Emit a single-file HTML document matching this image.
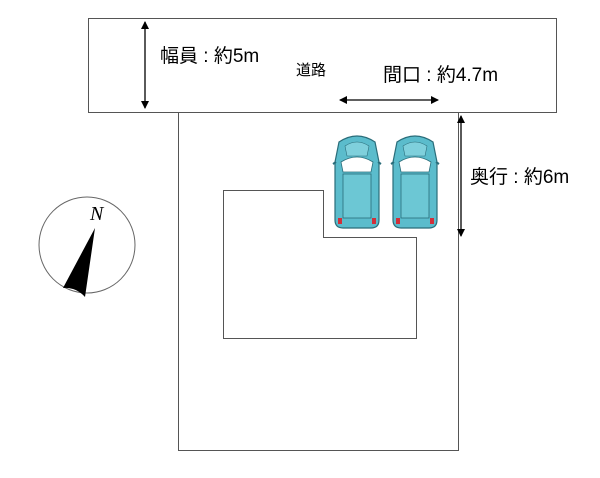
<!DOCTYPE html>
<html><head><meta charset="utf-8"><style>
body{margin:0;background:#fff;width:600px;height:473px;overflow:hidden}
text{font-family:"Liberation Sans","Noto Sans CJK JP",sans-serif;fill:#000}
</style></head><body>
<svg width="600" height="473" viewBox="0 0 600 473">
<defs>
<marker id="a" markerWidth="8" markerHeight="8" refX="7" refY="4" orient="auto-start-reverse" markerUnits="userSpaceOnUse"><path d="M0,0 L8,4 L0,8 Z" fill="#000"/></marker>
<g id="car">
<path d="M6,10 Q24,-2 42,10 L46,30 L46,88 Q46,96 38,96 L10,96 Q2,96 2,88 L2,30 Z" fill="#5bbccc" stroke="#2a6d7a" stroke-width="1.2"/>
<path d="M8,30 Q24,20 40,30 L38,40 L10,40 Z" fill="#fff" stroke="#2a6d7a" stroke-width="0.8"/>
<rect x="10" y="42" width="28" height="44" fill="#6cc7d4" stroke="#2a6d7a" stroke-width="0.8"/>
<path d="M12,14 Q24,6 36,14 L34,24 L14,24 Z" fill="#7fd0dc" stroke="#2a6d7a" stroke-width="0.6"/>
<rect x="5" y="86" width="4" height="6" fill="#d0303a"/><rect x="39" y="86" width="4" height="6" fill="#d0303a"/>
<path d="M0,32 L3,30 M48,32 L45,30" stroke="#2a6d7a" stroke-width="2"/>
</g>
</defs>
<rect x="88.5" y="18.5" width="468" height="94" fill="none" stroke="#555" stroke-width="1"/>
<rect x="178.5" y="112.5" width="280" height="338" fill="none" stroke="#555" stroke-width="1"/>
<path d="M223.5,190.5 H323.5 V237.5 H416.5 V338.5 H223.5 Z" fill="none" stroke="#555" stroke-width="1"/>
<line x1="145" y1="22" x2="145" y2="108" stroke="#000" stroke-width="1.3" marker-start="url(#a)" marker-end="url(#a)"/>
<line x1="340" y1="100" x2="438" y2="100" stroke="#000" stroke-width="1.3" marker-start="url(#a)" marker-end="url(#a)"/>
<line x1="461" y1="116" x2="461" y2="236" stroke="#000" stroke-width="1.3" marker-start="url(#a)" marker-end="url(#a)"/>
<text x="160" y="62" font-size="19" xml:space="preserve">幅員 : 約5m</text>
<text x="296" y="75" font-size="15">道路</text>
<text x="383" y="81" font-size="19" xml:space="preserve">間口 : 約4.7m</text>
<text x="470" y="183" font-size="19" xml:space="preserve">奥行 : 約6m</text>
<use href="#car" x="333" y="132"/>
<use href="#car" x="391" y="132"/>
<circle cx="87" cy="245" r="48" fill="none" stroke="#666" stroke-width="1"/>
<path d="M95,228 L85,297 Q76,287 63,288 Z" fill="#000"/>
<text x="90" y="220" font-size="20" font-style="italic" style="font-family:'Liberation Serif',serif">N</text>
</svg>
</body></html>
